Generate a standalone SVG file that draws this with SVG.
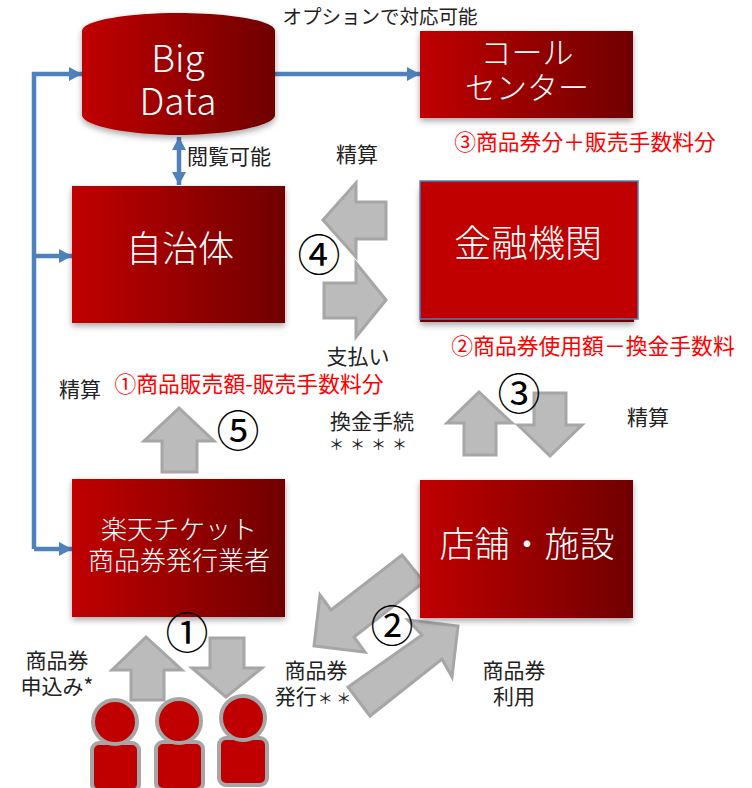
<svg xmlns="http://www.w3.org/2000/svg" width="752" height="788" viewBox="0 0 752 788">
<style>
text{font-family:"Noto Sans CJK JP","Noto Sans",sans-serif;text-anchor:middle}
.n{fill:url(#g);filter:url(#s)}
.w{fill:#fff;font-weight:300}
.l{fill:#222;font-size:21px}
.t{fill:#222;font-size:15px}
.r{fill:#f00;font-size:21.8px}
.c{fill:#000;font-size:43px;font-weight:400}
.a{fill:#bbb;stroke:#a6a6a6;stroke-width:3}
.b{fill:none;stroke:#4f81bd;stroke-width:4.5}
.p{fill:#c00000;stroke:#a6a6a6;stroke-width:4}
</style>
<defs>
<linearGradient id="g"><stop offset="0" stop-color="#c00000"/><stop offset="1" stop-color="#700000"/></linearGradient>
<filter id="s" x="-10%" y="-10%" width="120%" height="125%"><feDropShadow dx="0" dy="3" stdDeviation="3" flood-color="#000" flood-opacity=".35"/></filter>
<marker id="m" markerUnits="userSpaceOnUse" markerWidth="14" markerHeight="14" refX="13" refY="7" orient="auto-start-reverse"><path d="M0 0L13 7L0 14z" fill="#4f81bd"/></marker>
</defs>
<g id="connectors">
<path class="b" d="M34 549V74H82" marker-end="url(#m)"/>
<path class="b" d="M34 256H72" marker-end="url(#m)"/>
<path class="b" d="M34 549H72" marker-end="url(#m)"/>
<path class="b" d="M275 74H420" marker-end="url(#m)"/>
<path class="b" d="M179 137V185" marker-start="url(#m)" marker-end="url(#m)"/>
<polygon class="a" points="323,220 356,183 356,202 386,202 386,239 356,239 356,257"/>
<polygon class="a" points="386,300 356,263 356,283 324,283 324,318 356,318 356,337"/>
<polygon class="a" points="179,408 144,441 162,441 162,472 197,472 197,441 214,441"/>
<polygon class="a" points="146,637 112,670 131,670 131,700 164,700 164,670 182,670"/>
<polygon class="a" points="226,697 192,668 210,668 210,638 244,638 244,668 262,668"/>
<polygon class="a" points="479,392 447,423 464,423 464,455 496,455 496,423 512,423"/>
<polygon class="a" points="550,456 518,425 534,425 534,393 566,393 566,425 582,425"/>
<polygon class="a" points="402,555 424,582 354,637 365,652 314,646 320,595 331,610"/>
<polygon class="a" points="348,687 370,716 442,659 452,677 458,626 408,620 422,635"/>
</g>
<g id="bigdata"><path class="n" d="M82 31C82 20 130 13 178 13S275 20 275 31V115C275 126 226 135 178 135S82 126 82 115Z"/>
<text class="w" x="178" y="72" font-size="37">Big</text><text class="w" x="178" y="115" font-size="37">Data</text></g>
<g id="callcenter"><rect class="n" x="420" y="31" width="213" height="87"/>
<text class="w" x="527" y="64" font-size="31">コール</text><text class="w" x="527" y="99" font-size="31">センター</text></g>
<g id="jichitai"><rect class="n" x="72" y="186" width="213" height="137"/>
<text class="w" x="180" y="262" font-size="36">自治体</text></g>
<g id="kinyu"><rect x="420" y="186" width="214" height="136" fill="#700000" filter="url(#s)"/><rect x="420" y="181" width="218" height="138" fill="#c00000" stroke="#4f81bd" stroke-width="1.5"/>
<text class="w" x="528" y="257" font-size="37">金融機関</text></g>
<g id="rakuten"><rect class="n" x="72" y="479" width="213" height="138"/>
<text class="w" x="179" y="539" font-size="26">楽天チケット</text><text class="w" x="179" y="570" font-size="26">商品券発行業者</text></g>
<g id="tenpo"><rect class="n" x="420" y="480" width="213" height="138"/>
<text class="w" x="527" y="557" font-size="35">店舗・施設</text></g>
<g id="users">
<rect class="p" x="92" y="743" width="47" height="48" rx="7"/><circle class="p" cx="115" cy="722" r="22"/>
<rect class="p" x="156" y="742" width="47" height="48" rx="7"/><circle class="p" cx="179" cy="721" r="22"/>
<rect class="p" x="219" y="738" width="48" height="47" rx="7"/><circle class="p" cx="243" cy="718" r="22"/>
</g>
<g id="labels">
<text class="l" x="380" y="24" style="font-size:19.5px">オプションで対応可能</text>
<text class="l" x="229" y="164">閲覧可能</text>
<text class="l" x="357" y="162">精算</text>
<text class="l" x="358" y="364">支払い</text>
<text class="l" x="80" y="397">精算</text>
<text class="l" x="372" y="429">換金手続</text>
<text class="t" x="371" y="450" letter-spacing="6">＊＊＊＊</text>
<text class="l" x="648" y="425">精算</text>
<text class="l" x="57" y="668">商品券</text>
<text class="l" x="57" y="694">申込み*</text>
<text class="l" x="316" y="678">商品券</text>
<text class="l" x="313" y="704">発行<tspan class="t" dx="1">＊ ＊</tspan></text>
<text class="l" x="514" y="678">商品券</text>
<text class="l" x="514" y="704">利用</text>
<text class="r" x="585" y="150">③商品券分＋販売手数料分</text>
<text class="r" x="593" y="354">②商品券使用額－換金手数料</text>
<text class="r" x="249" y="392">①商品販売額-販売手数料分</text>
<text class="c" x="319" y="271">④</text>
<text class="c" x="238" y="447">⑤</text>
<text class="c" x="519" y="410">③</text>
<text class="c" x="392" y="642">②</text>
<text class="c" x="187" y="649">①</text>
</g>
</svg>
